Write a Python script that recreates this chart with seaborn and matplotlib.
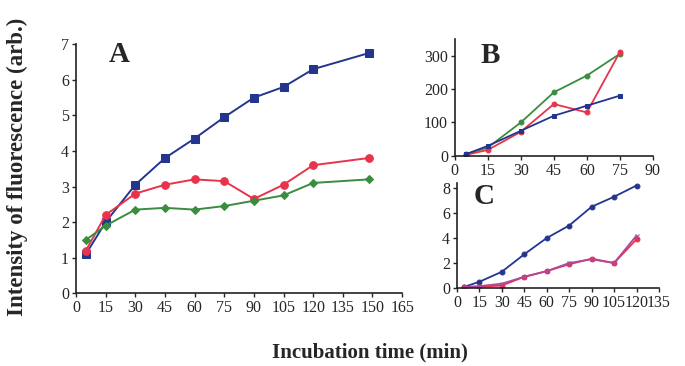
import numpy as np
import matplotlib
matplotlib.use("Agg")
import matplotlib.pyplot as plt
import seaborn as sns

# ---- data ----
time_a = [5, 15, 30, 45, 60, 75, 90, 105, 120, 148]
a_blue = [1.1, 2.0, 3.05, 3.8, 4.35, 4.95, 5.5, 5.8, 6.3, 6.75]
a_red = [1.2, 2.2, 2.8, 3.05, 3.2, 3.15, 2.65, 3.05, 3.6, 3.8]
a_green = [1.5, 1.9, 2.35, 2.4, 2.35, 2.45, 2.6, 2.75, 3.1, 3.2]

time_b = [5, 15, 30, 45, 60, 75]
b_blue = [5, 30, 75, 120, 150, 180]
b_red = [3, 18, 72, 155, 130, 310]
b_green = [5, 25, 100, 190, 240, 305]

time_c = [5, 15, 30, 45, 60, 75, 90, 105, 120]
c_blue = [0.1, 0.5, 1.3, 2.7, 4.0, 5.0, 6.5, 7.3, 8.2]
c_red = [0.05, 0.1, 0.2, 0.9, 1.35, 1.9, 2.35, 2.0, 3.9]
c_purple = [0.1, 0.15, 0.35, 0.9, 1.35, 2.0, 2.3, 2.0, 4.2]

BLUE = "#24358f"
RED = "#e8334a"
GREEN = "#3a8c3f"
PURPLE = "#b0479a"

sns.set_style("ticks")
plt.rcParams["font.family"] = ["Liberation Serif", "DejaVu Serif"]
plt.rcParams["axes.edgecolor"] = "#222222"

fig = plt.figure(figsize=(6.85, 3.66), dpi=100)
ax_a = fig.add_axes([0.111, 0.199, 0.476, 0.680])
ax_b = fig.add_axes([0.664, 0.574, 0.289, 0.320])
ax_c = fig.add_axes([0.667, 0.213, 0.295, 0.287])

# Panel A
sns.lineplot(x=time_a, y=a_blue, ax=ax_a, color=BLUE, marker="s", markersize=5.5,
             markeredgecolor=BLUE, linewidth=1.4)
sns.lineplot(x=time_a, y=a_red, ax=ax_a, color=RED, marker="o", markersize=5.5,
             markeredgecolor=RED, linewidth=1.4)
sns.lineplot(x=time_a, y=a_green, ax=ax_a, color=GREEN, marker="D", markersize=4.5,
             markeredgecolor=GREEN, linewidth=1.4)
ax_a.set_xlim(0, 165)
ax_a.set_ylim(0, 7)
ax_a.set_xticks(np.arange(0, 166, 15))
ax_a.set_yticks(np.arange(0, 8, 1))
ax_a.text(22, 6.7, "A", fontsize=21, fontweight="bold", ha="center", va="center")

# Panel B
sns.lineplot(x=time_b, y=b_green, ax=ax_b, color=GREEN, marker="o", markersize=3.5,
             markeredgecolor=GREEN, linewidth=1.3)
sns.lineplot(x=time_b, y=b_red, ax=ax_b, color=RED, marker="o", markersize=3.5,
             markeredgecolor=RED, linewidth=1.3)
sns.lineplot(x=time_b, y=b_blue, ax=ax_b, color=BLUE, marker="s", markersize=3.5,
             markeredgecolor=BLUE, linewidth=1.3)
ax_b.set_xlim(0, 90)
ax_b.set_ylim(0, 350)
ax_b.set_xticks(np.arange(0, 91, 15))
ax_b.set_yticks([0, 100, 200, 300])
ax_b.text(16, 300, "B", fontsize=21, fontweight="bold", ha="center", va="center")

# Panel C
sns.lineplot(x=time_c, y=c_blue, ax=ax_c, color=BLUE, marker="o", markersize=3.5,
             markeredgecolor=BLUE, linewidth=1.3)
sns.lineplot(x=time_c, y=c_red, ax=ax_c, color=RED, marker="o", markersize=3.5,
             markeredgecolor=RED, linewidth=1.3)
sns.lineplot(x=time_c, y=c_purple, ax=ax_c, color=PURPLE, marker="x", markersize=3.5,
             markeredgecolor=PURPLE, linewidth=1.3)
ax_c.set_xlim(0, 135)
ax_c.set_ylim(0, 8.4)
ax_c.set_xticks(np.arange(0, 136, 15))
ax_c.set_yticks([0, 2, 4, 6, 8])
ax_c.text(18, 7.3, "C", fontsize=21, fontweight="bold", ha="center", va="center")

for ax in (ax_a, ax_b, ax_c):
    sns.despine(ax=ax)
    ax.tick_params(labelsize=11.5, length=3, width=1, direction="out", pad=2)
    for s in ("left", "bottom"):
        ax.spines[s].set_linewidth(1.2)
    ax.set_xlabel("")
    ax.set_ylabel("")

fig.text(0.026, 0.545, "Intensity of fluorescence (arb.)", rotation=90,
         fontsize=16.5, fontweight="bold", ha="center", va="center")
fig.text(0.54, 0.037, "Incubation time (min)", fontsize=15,
         fontweight="bold", ha="center", va="center")

fig.savefig("out.png", dpi=100)
